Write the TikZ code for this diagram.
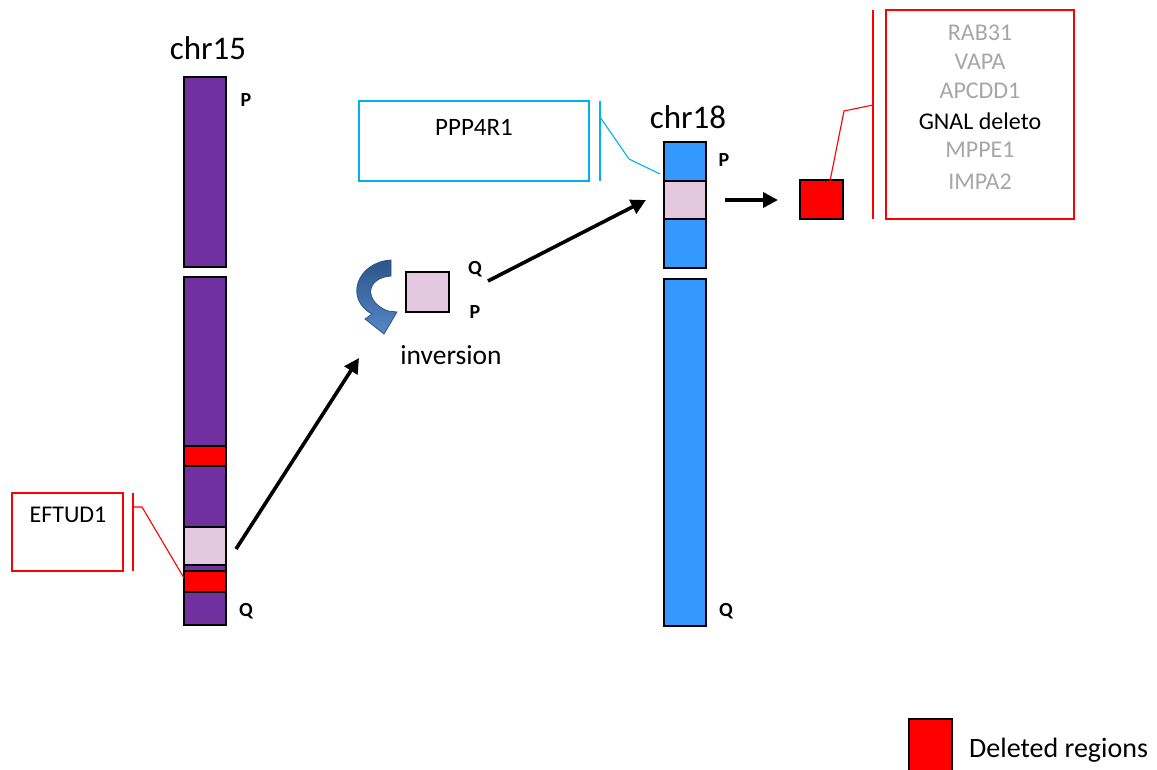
\documentclass[tikz,border=0pt]{standalone}
\usepackage{fontspec}
\setmainfont{Carlito}
\usetikzlibrary{arrows.meta}
\definecolor{chrpurple}{RGB}{112,48,160}
\definecolor{chrblue}{RGB}{51,153,255}
\definecolor{segpink}{RGB}{228,200,224}
\definecolor{delred}{RGB}{255,0,0}
\definecolor{calloutblue}{RGB}{0,176,240}
\definecolor{calloutred}{RGB}{255,0,0}
\definecolor{genegray}{RGB}{166,166,166}
\definecolor{curvtop}{RGB}{45,85,135}
\definecolor{curvbot}{RGB}{85,135,200}
\tikzset{
  band/.style={draw=black, line width=1.8pt},
  bigarrow/.style={line width=3.6pt, -{Triangle[length=15pt,width=15pt]}},
  lbl/.style={inner sep=0pt, font=\fontsize{20}{24}\selectfont\bfseries},
  chrname/.style={inner sep=0pt, font=\fontsize{33}{38}\selectfont},
  boxtext/.style={inner sep=0pt, font=\fontsize{24}{28}\selectfont},
  callb/.style={calloutblue, line width=1.1pt},
  callr/.style={calloutred, line width=1.1pt},
}
\begin{document}
\begin{tikzpicture}[x=1pt,y=-1pt]
\useasboundingbox (0,0) rectangle (1157,769);
% chr15
\node[chrname] (chr15) at (208,48) {chr15};
\draw[band, fill=chrpurple] (184,77) rectangle (226,267);
\draw[band, fill=chrpurple] (184,277) rectangle (226,625);
\draw[band, fill=delred] (184,446) rectangle (226,466);
\draw[band, fill=segpink] (184,527) rectangle (226,565);
\draw[band, fill=delred] (184,571) rectangle (226,592);
\node[lbl] (p15) at (246,100) {P};
\node[lbl] (q15) at (246,611) {Q};
% chr18
\node[chrname] (chr18) at (688,117) {chr18};
\draw[band, fill=chrblue] (664,142) rectangle (706,268);
\draw[band, fill=segpink] (664,181) rectangle (706,219);
\draw[band, fill=chrblue] (664,279) rectangle (706,626);
\node[lbl] (p18) at (724,160) {P};
\node[lbl] (q18) at (726,611) {Q};
% inversion
\draw[band, fill=segpink] (406,272) rectangle (449,312);
\node[lbl] (qi) at (475,269) {Q};
\node[lbl] (pi) at (475,312) {P};
\node[inner sep=0pt, font=\fontsize{27.5}{32}\selectfont] (inv) at (451,355) {inversion};
\shade[top color=curvtop, bottom color=curvbot, draw=curvtop, line width=0.8pt]
  (391,260) .. controls (357,262) and (344,299) .. (372,314)
  -- (365,319) -- (384,334) -- (397,312) -- (388,311)
  .. controls (364,302) and (365,278) .. (391,276) -- cycle;
% arrows
\coordinate (a1s) at (236,549); \coordinate (a1e) at (359,358);
\coordinate (a2s) at (488,281); \coordinate (a2e) at (646,200);
\coordinate (a3s) at (725,200); \coordinate (a3e) at (778,200);
\draw[bigarrow] (a1s) -- (a1e);
\draw[bigarrow] (a2s) -- (a2e);
\draw[bigarrow] (a3s) -- (a3e);
% deleted square
\draw[band, fill=delred] (800,180) rectangle (843,219);
% PPP4R1 callout
\draw[callb] (359,101) rectangle (589,181);
\node[boxtext, font=\fontsize{25}{29}\selectfont] (ppp) at (474,127) {PPP4R1};
\coordinate (pb1) at (600,101); \coordinate (pb2) at (600,181);
\draw[callb] (pb1) -- (pb2);
\coordinate (pl1) at (600,117); \coordinate (pl2) at (629,159); \coordinate (pl3) at (660,174);
\draw[callb] (pl1) -- (pl2) -- (pl3);
% gene callout
\draw[callr] (886,10) rectangle (1074,219);
\coordinate (gb1) at (873,10); \coordinate (gb2) at (873,219);
\draw[callr] (gb1) -- (gb2);
\coordinate (gl1) at (873,105); \coordinate (gl2) at (844,111); \coordinate (gl3) at (830,181);
\draw[callr] (gl1) -- (gl2) -- (gl3);
\node[boxtext, text=genegray] (g1) at (980,33) {RAB31};
\node[boxtext, text=genegray] (g2) at (980,62) {VAPA};
\node[boxtext, text=genegray] (g3) at (980,91) {APCDD1};
\node[boxtext] (g4) at (980,121) {GNAL deleto};
\node[boxtext, text=genegray] (g5) at (980,150) {MPPE1};
\node[boxtext, text=genegray] (g6) at (980,182) {IMPA2};
% EFTUD1 callout
\draw[callr] (12,493) rectangle (123,571);
\node[boxtext] (ef) at (68,515) {EFTUD1};
\coordinate (eb1) at (133,493); \coordinate (eb2) at (133,571);
\draw[callr] (eb1) -- (eb2);
\coordinate (el1) at (133,507); \coordinate (el2) at (142,507); \coordinate (el3) at (184,578);
\draw[callr] (el1) -- (el2) -- (el3);
% legend
\draw[band, fill=delred] (909,719) rectangle (952,775);
\node[inner sep=0pt, anchor=west, font=\fontsize{28}{32}\selectfont] (leg) at (969,750) {Deleted regions};
\end{tikzpicture}
\end{document}
